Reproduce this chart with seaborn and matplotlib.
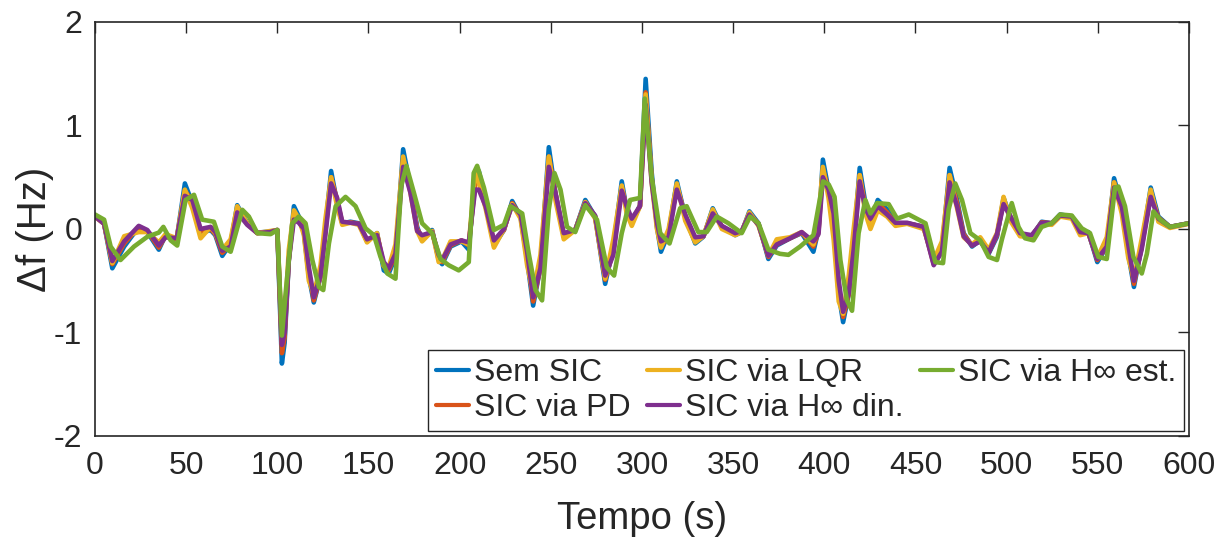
import numpy as np
import pandas as pd
import seaborn as sns
import matplotlib
matplotlib.use('Agg')
import matplotlib.pyplot as plt

## Data (time in s, frequency deviation in Hz)
# blue / red / orange / purple share the same time knots
t_main = [0, 5, 9.5, 16, 24, 28.7, 35, 38.7, 44.8, 49.3, 53.4, 57.9, 63.4, 66, 69.8, 74.4, 78, 83.5, 89, 96,
          100, 102.5, 104, 106.3, 109.1, 111.8, 114.6, 117.3, 120, 123.7, 126.4, 129.5, 132.8, 135.6, 140.1,
          144.7, 149.2, 154.7, 158.4, 161.1, 164.8, 169, 173, 176.7, 179.4, 184.9, 188.5, 190.4, 195, 201,
          205, 208.5, 210.5, 214.2, 218.8, 224.3, 228.8, 233.4, 237, 240.3, 244.3, 248.9, 252.5, 257.1,
          263.4, 268.9, 274.3, 279.8, 284.3, 288.9, 291.6, 294.4, 298.9, 302, 305.3, 308.2, 310.4, 314.6,
          319.1, 323.7, 329.2, 333.7, 338.8, 343.8, 351.1, 354.7, 358.9, 363.9, 369.3, 373.9, 381.2, 387.6,
          394, 396.8, 399.2, 402.3, 405.1, 407.9, 410.3, 413.4, 416.1, 419.4, 422.5, 425.3, 429.3, 434.4,
          439, 445.4, 454.5, 460, 464.5, 468.7, 472.8, 476.4, 481, 485.5, 490.1, 494.7, 498.3, 502, 507.3,
          513.7, 519.2, 524.7, 529.3, 535.7, 540.3, 544.8, 549.7, 554.9, 558.9, 563.1, 566.7, 569.8, 574,
          579, 583.2, 589.6, 600]

sem_sic = [0.13, 0.05, -0.38, -0.17, 0.02, -0.03, -0.2, -0.06, -0.1, 0.44, 0.25, -0.04, -0.01, -0.06, -0.26,
           -0.14, 0.23, 0.055, -0.035, -0.025, -0.01, -1.3, -1.1, -0.3, 0.22, 0.12, -0.04, -0.46, -0.71, -0.46,
           0.02, 0.56, 0.25, 0.055, 0.07, 0.055, -0.12, -0.04, -0.4, -0.43, -0.27, 0.77, 0.41, 0.02, -0.11,
           -0.01, -0.3, -0.34, -0.17, -0.12, -0.2, 0.5, 0.56, 0.28, -0.16, -0.01, 0.27, 0.12, -0.3, -0.74,
           -0.37, 0.79, 0.35, -0.075, -0.01, 0.28, 0.12, -0.53, -0.17, 0.46, 0.19, 0.055, 0.23, 1.45, 0.55,
           0.02, -0.22, -0.04, 0.46, 0.12, -0.14, -0.075, 0.2, 0.02, -0.06, -0.03, 0.17, 0.055, -0.29, -0.16,
           -0.09, -0.04, -0.22, -0.01, 0.67, 0.38, 0.02, -0.63, -0.9, -0.63, -0.14, 0.59, 0.25, 0.055, 0.28,
           0.19, 0.055, 0.055, 0.02, -0.32, -0.2, 0.59, 0.28, -0.04, -0.17, -0.11, -0.24, -0.075, 0.3, 0.12,
           -0.06, -0.075, 0.07, 0.055, 0.14, 0.12, -0.04, -0.03, -0.32, -0.17, 0.49, 0.22, -0.24, -0.56,
           -0.17, 0.4, 0.12, 0.02, 0.055]

sic_pd = [0.12, 0.05, -0.34, -0.14, 0.02, -0.02, -0.18, -0.07, -0.1, 0.37, 0.27, -0.02, 0.0, -0.05, -0.23,
          -0.15, 0.19, 0.05, -0.04, -0.03, -0.01, -1.2, -1.05, -0.3, 0.15, 0.09, -0.02, -0.42, -0.69, -0.46,
          -0.02, 0.5, 0.28, 0.06, 0.065, 0.05, -0.11, -0.05, -0.36, -0.4, -0.25, 0.68, 0.38, 0.0, -0.08,
          -0.02, -0.28, -0.32, -0.16, -0.11, -0.16, 0.44, 0.46, 0.25, -0.13, -0.01, 0.25, 0.13, -0.26, -0.7,
          -0.38, 0.7, 0.35, -0.06, -0.01, 0.26, 0.12, -0.49, -0.21, 0.41, 0.2, 0.08, 0.22, 1.32, 0.5,
          0.04, -0.17, -0.06, 0.42, 0.13, -0.11, -0.07, 0.17, 0.025, -0.05, -0.025, 0.15, 0.05, -0.27, -0.15,
          -0.09, -0.035, -0.17, -0.03, 0.58, 0.38, 0.08, -0.56, -0.85, -0.63, -0.17, 0.52, 0.22, 0.08, 0.25,
          0.16, 0.055, 0.055, 0.02, -0.34, -0.21, 0.52, 0.25, -0.05, -0.16, -0.11, -0.23, -0.06, 0.27, 0.12,
          -0.05, -0.07, 0.065, 0.055, 0.135, 0.12, -0.035, -0.035, -0.3, -0.17, 0.45, 0.22, -0.2, -0.53,
          -0.18, 0.35, 0.11, 0.02, 0.055]

sic_lqr = [0.12, 0.05, -0.33, -0.07, -0.03, -0.03, -0.13, -0.05, -0.09, 0.38, 0.2, -0.09, 0.02, -0.04, -0.2,
           -0.1, 0.22, 0.05, -0.04, -0.02, -0.01, -1.05, -0.9, -0.2, 0.18, 0.1, -0.06, -0.5, -0.63, -0.35,
           0.1, 0.5, 0.22, 0.04, 0.06, 0.04, -0.13, -0.04, -0.36, -0.37, -0.15, 0.7, 0.35, -0.02, -0.12,
           -0.02, -0.32, -0.3, -0.12, -0.12, -0.15, 0.55, 0.45, 0.2, -0.18, 0.0, 0.24, 0.1, -0.35, -0.62,
           -0.25, 0.7, 0.28, -0.1, -0.01, 0.26, 0.1, -0.48, -0.1, 0.42, 0.15, 0.03, 0.22, 1.3, 0.45,
           0.0, -0.18, 0.0, 0.44, 0.08, -0.13, -0.07, 0.19, 0.0, -0.06, -0.03, 0.16, 0.03, -0.26, -0.1,
           -0.08, -0.03, -0.15, 0.1, 0.6, 0.3, -0.1, -0.7, -0.82, -0.45, 0.0, 0.52, 0.15, 0.0, 0.18,
           0.12, 0.03, 0.05, 0.0, -0.3, -0.12, 0.52, 0.2, -0.08, -0.15, -0.08, -0.2, -0.04, 0.31, 0.08,
           -0.07, -0.08, 0.05, 0.04, 0.12, 0.1, -0.06, -0.04, -0.28, -0.08, 0.45, 0.15, -0.28, -0.48,
           -0.1, 0.38, 0.07, 0.01, 0.05]

sic_hinf_din = [0.12, 0.05, -0.31, -0.12, 0.03, -0.01, -0.16, -0.08, -0.09, 0.32, 0.28, 0.0, 0.02, -0.03, -0.21,
                -0.17, 0.16, 0.04, -0.04, -0.03, -0.01, -1.12, -1.0, -0.3, 0.09, 0.06, 0.0, -0.37, -0.66, -0.45,
                -0.05, 0.44, 0.3, 0.07, 0.06, 0.05, -0.1, -0.06, -0.32, -0.38, -0.24, 0.6, 0.35, -0.02, -0.06,
                -0.03, -0.25, -0.3, -0.15, -0.11, -0.13, 0.38, 0.38, 0.22, -0.11, 0.0, 0.23, 0.14, -0.22, -0.66,
                -0.38, 0.6, 0.35, -0.04, -0.01, 0.25, 0.13, -0.45, -0.25, 0.37, 0.22, 0.1, 0.22, 1.2, 0.45,
                0.06, -0.12, -0.08, 0.38, 0.14, -0.08, -0.07, 0.15, 0.03, -0.04, -0.02, 0.14, 0.04, -0.26, -0.15,
                -0.09, -0.03, -0.12, -0.05, 0.5, 0.38, 0.15, -0.5, -0.8, -0.62, -0.2, 0.46, 0.2, 0.1, 0.22,
                0.14, 0.06, 0.06, 0.02, -0.35, -0.22, 0.45, 0.22, -0.07, -0.16, -0.12, -0.23, -0.05, 0.24, 0.12,
                -0.04, -0.06, 0.06, 0.055, 0.13, 0.12, -0.03, -0.04, -0.29, -0.17, 0.4, 0.22, -0.15, -0.5,
                -0.2, 0.31, 0.1, 0.02, 0.055]

# green series has its own knots
t_est = [0, 5, 8.6, 14, 21.4, 28.7, 35, 37.5, 41.5, 45.1, 49.7, 54.3, 58.8, 65.2, 69.8, 74.4, 80.8, 84.4, 89,
         96.3, 100, 102.5, 104.5, 108.2, 111.8, 115.5, 119.2, 122.8, 125.2, 128.3, 132, 137.4, 142.9, 148.4,
         153, 156.6, 160.3, 164.8, 167.9, 170.8, 174.9, 179.4, 184.9, 189.5, 194, 199.5, 205, 207.7, 209.6,
         213.3, 218.8, 224.3, 227.9, 234.3, 237.9, 241.6, 245.2, 248.9, 252, 255.3, 258.9, 263.4, 268.9,
         275.3, 280.7, 284.7, 288.9, 293.5, 298.9, 301.5, 305.3, 310, 315.1, 320.9, 324.5, 330.9, 335.5, 341,
         347.4, 354.7, 359.3, 363.9, 369.3, 375.7, 380.3, 386.7, 394, 399.3, 402.4, 405.6, 408.8, 412.4,
         415.2, 418.8, 422.5, 425.3, 428.9, 435.3, 439.9, 446.3, 455.5, 460.9, 465.1, 468.2, 471.8, 475.5,
         480.1, 485.5, 490.1, 494.7, 497.4, 502.8, 506.5, 510.1, 514.7, 519.2, 524.7, 529.3, 535.7, 541.2,
         545.7, 550.3, 554.9, 559.4, 561.3, 564.9, 569.5, 574.1, 576.9, 580.5, 584.2, 589.6, 600]

sic_hinf_est = [0.14, 0.09, -0.17, -0.3, -0.17, -0.075, -0.035, 0.02, -0.11, -0.16, 0.28, 0.33, 0.09, 0.07,
                -0.17, -0.22, 0.185, 0.12, -0.04, -0.05, -0.01, -1.03, -0.63, 0.055, 0.12, 0.055, -0.3, -0.56,
                -0.59, -0.14, 0.22, 0.31, 0.22, 0.006, -0.06, -0.27, -0.43, -0.48, 0.41, 0.61, 0.35, 0.055,
                -0.04, -0.29, -0.35, -0.4, -0.32, 0.54, 0.61, 0.4, -0.01, 0.04, 0.22, 0.15, -0.24, -0.59,
                -0.69, 0.19, 0.54, 0.38, 0.02, -0.03, 0.23, 0.09, -0.37, -0.45, -0.04, 0.28, 0.3, 1.26, 0.5,
                -0.04, -0.14, 0.2, 0.22, -0.03, -0.03, 0.12, 0.055, -0.04, 0.12, 0.055, -0.2, -0.24, -0.25,
                -0.17, -0.06, 0.46, 0.43, 0.31, -0.3, -0.69, -0.79, -0.04, 0.28, 0.15, 0.25, 0.24, 0.1, 0.14,
                0.055, -0.32, -0.33, 0.19, 0.44, 0.28, -0.04, -0.11, -0.27, -0.3, -0.1, 0.25, 0.02, -0.09,
                -0.11, 0.02, 0.055, 0.14, 0.13, 0.006, -0.04, -0.27, -0.29, 0.4, 0.41, 0.22, -0.27, -0.43,
                -0.24, 0.17, 0.09, 0.02, 0.055]

labels = ['Sem SIC', 'SIC via PD', 'SIC via LQR', 'SIC via H∞ din.', 'SIC via H∞ est.']
colors = ['#0072BD', '#D95319', '#EDB120', '#7E2F8E', '#77AC30']

df = pd.concat([
    pd.DataFrame({'t': t_main, 'df': sem_sic, 'serie': labels[0]}),
    pd.DataFrame({'t': t_main, 'df': sic_pd, 'serie': labels[1]}),
    pd.DataFrame({'t': t_main, 'df': sic_lqr, 'serie': labels[2]}),
    pd.DataFrame({'t': t_main, 'df': sic_hinf_din, 'serie': labels[3]}),
    pd.DataFrame({'t': t_est, 'df': sic_hinf_est, 'serie': labels[4]}),
], ignore_index=True)

sns.set_style('white')
plt.rcParams['font.family'] = ['Liberation Sans', 'DejaVu Sans']
plt.rcParams['axes.unicode_minus'] = False

fig = plt.figure(figsize=(12.32, 5.38), dpi=100)
ax = fig.add_axes([0.0771, 0.1896, 0.8880, 0.7696])

sns.lineplot(data=df, x='t', y='df', hue='serie', hue_order=labels, palette=colors,
             estimator=None, sort=False, linewidth=3.3, ax=ax)
for ln in ax.get_lines():
    ln.set_solid_joinstyle('round')
    ln.set_solid_capstyle('round')

ax.set_xlim(0, 600)
ax.set_ylim(-2, 2)
ax.set_xticks(np.arange(0, 601, 50))
ax.set_yticks([-2, -1, 0, 1, 2])
ax.set_xlabel('Tempo (s)', fontsize=27.5, color='#262626', labelpad=14)
ax.set_ylabel('Δf (Hz)', fontsize=29, color='#262626', labelpad=0)
ax.tick_params(direction='in', length=8, width=1, colors='#262626', labelsize=23,
               top=True, right=True)
ax.tick_params(axis='x', pad=11)
ax.tick_params(axis='y', pad=9)
for s in ax.spines.values():
    s.set_color('#262626')
    s.set_linewidth(1.2)

leg = ax.legend(ncol=3, loc='lower right', fontsize=23, frameon=True, fancybox=False,
                framealpha=1, edgecolor='#262626', handlelength=1.05, handletextpad=0.15,
                columnspacing=0.5, labelspacing=0.15, borderpad=0.25, borderaxespad=0.15)
leg.get_frame().set_linewidth(1.0)
for ln in leg.get_lines():
    ln.set_linewidth(3.0)

plt.savefig('out.png', dpi=100)
